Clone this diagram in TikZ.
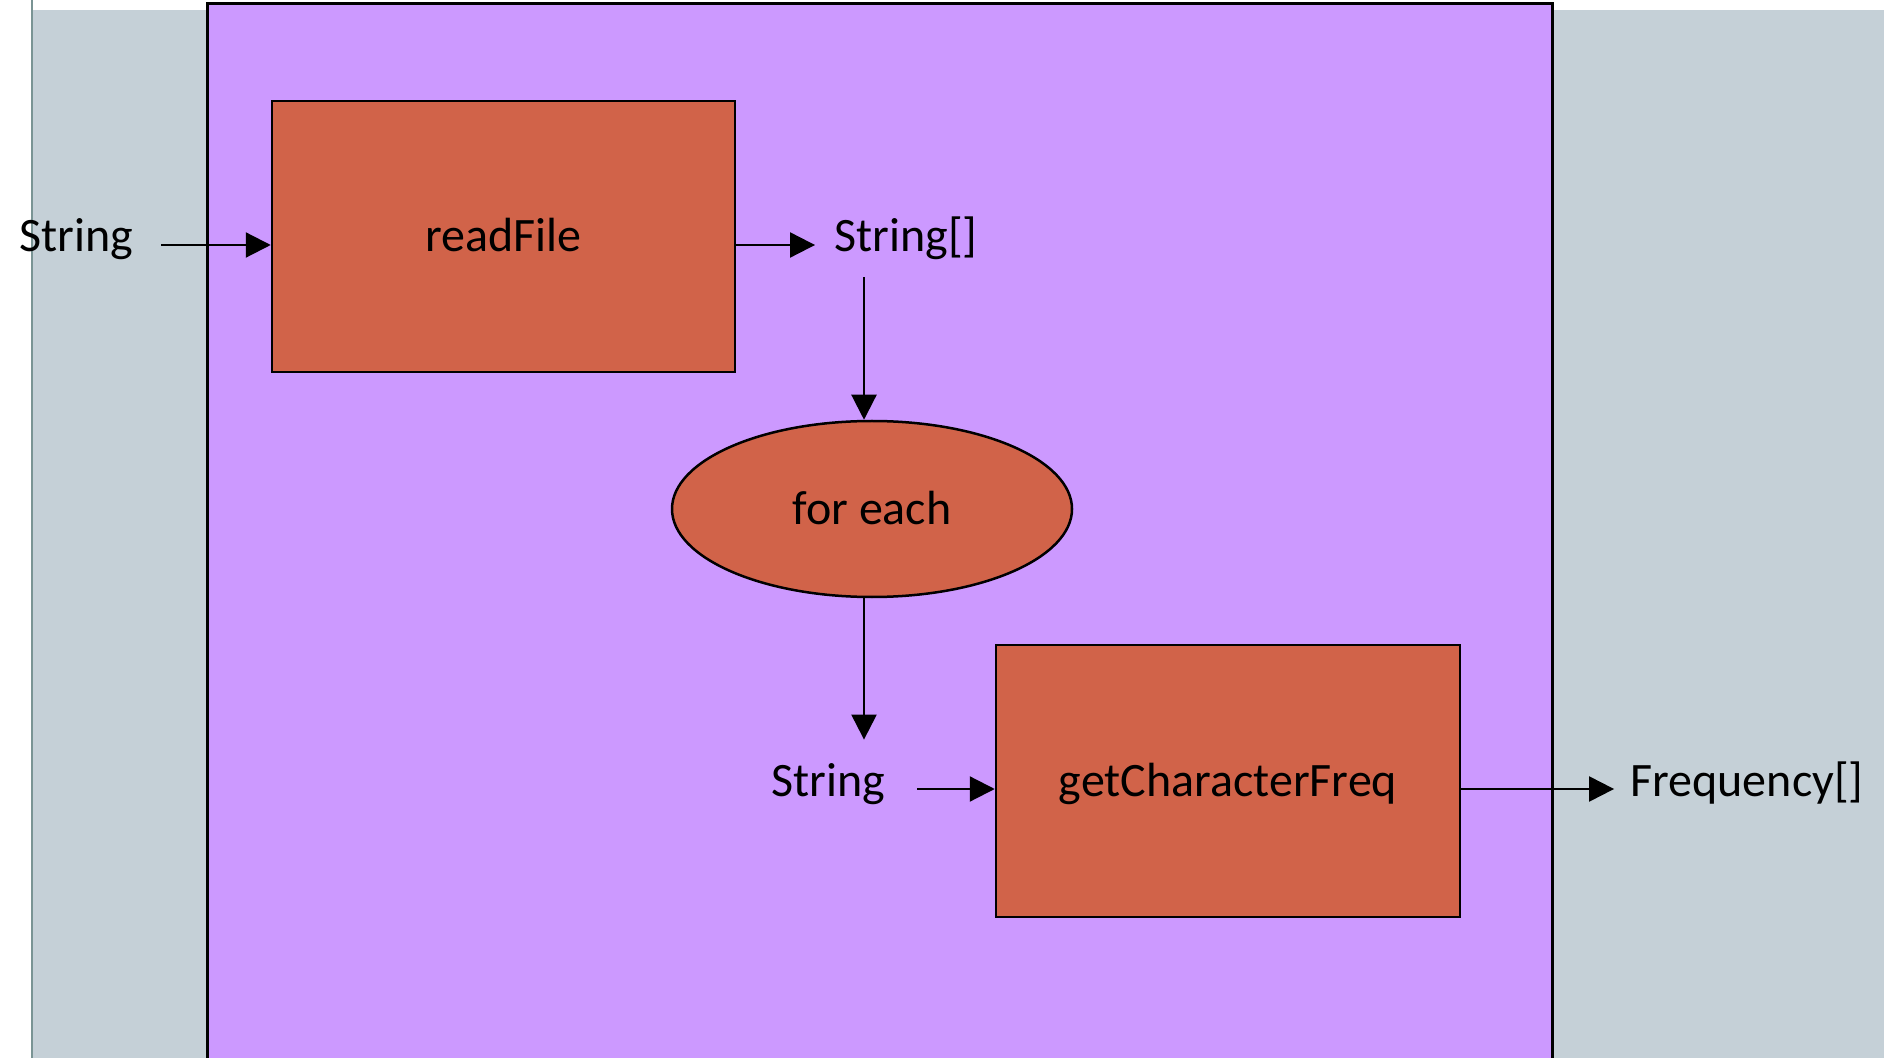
\documentclass[tikz,border=0pt]{standalone}
\usepackage{fontspec}
\setmainfont{Carlito}
\usetikzlibrary{shapes.geometric}
\usetikzlibrary{arrows.meta}

\definecolor{slidegrey}{HTML}{C5D0D7}
\definecolor{slideline}{HTML}{7A9494}
\definecolor{methodbg}{HTML}{CC99FF}
\definecolor{funcred}{HTML}{D16349}

\begin{document}
\begin{tikzpicture}[x=0.5pt,y=-0.5pt,font=\fontsize{24}{29}\selectfont,
    func/.style={draw,line width=1.25pt,fill=funcred,minimum width=231.5pt,minimum height=135.5pt,text height=16pt,text depth=0.5pt},
    loopnode/.style={ellipse,draw,line width=1.25pt,fill=funcred,inner sep=0pt,minimum width=200pt,minimum height=88pt,text height=16pt,text depth=0.5pt},
    lbl/.style={inner sep=0pt,text height=12pt,text depth=5pt},
    arr/.style={line width=1.1pt,-{Triangle[length=12.5pt,width=12.5pt]}}]
        % slide background
        \useasboundingbox (0,0) rectangle (1884,1058);
        \fill[white] (0,0) rectangle (1884,1058);
        \fill[slidegrey] (32,10) rectangle (1884,1058);
        \draw[slideline,line width=1pt] (32,0) -- (32,1058);
        \draw[line width=1.5pt,fill=methodbg] (207,4) rectangle (1552,1064);

        % functions
        \node[func] (readFile) at (503.5,236.5) {readFile};
        \node[loopnode] (forEach) at (872,509) {for each};
        \node[func,minimum width=232pt,minimum height=136pt] (charFreq) at (1228,781) {getCharacterFreq};

        % data labels
        \node[lbl] (lblIn) at (76,245) {String};
        \node[lbl] (lblArr) at (906,245) {String[]};
        \node[lbl] (lblStr) at (828,789) {String};
        \node[lbl] (lblFreq) at (1747,789) {Frequency[]};

        \draw[arr] ([xshift=14pt]lblIn.east) -- (lblIn -| readFile.west);
        \draw[arr] (readFile.east |- lblArr) -- ([xshift=-9.5pt]lblArr.west);
        \draw[arr] ([xshift=-21pt,yshift=-7.5pt]lblArr.south) -- ([xshift=-4pt]forEach.north);
        \draw[arr] ([xshift=-4pt]forEach.south) -- ([xshift=18pt,yshift=16pt]lblStr.north);
        \draw[arr] ([xshift=16pt]lblStr.east) -- (lblStr -| charFreq.west);
        \draw[arr] (charFreq.east |- lblFreq) -- ([xshift=-8pt]lblFreq.west);
\end{tikzpicture}
\end{document}
